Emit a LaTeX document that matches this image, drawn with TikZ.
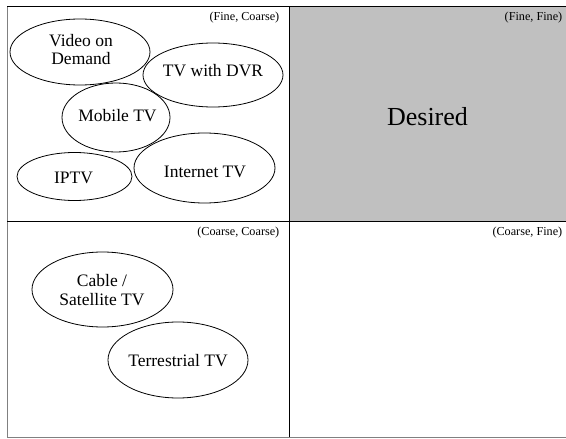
\documentclass[tikz,border=0pt]{standalone}
\usepackage{fontspec}
\setmainfont{Liberation Serif}
\begin{document}
\begin{tikzpicture}[x=1pt,y=-1pt,
  grid/.style={draw=black,line width=0.9pt},
  edge/.style={draw={rgb,255:red,128;green,128;blue,128},line width=1pt},
  bub/.style={draw=black,line width=0.8pt},
  lbl/.style={inner sep=0pt,align=center,font=\fontsize{17.5}{18.5}\selectfont},
  corner/.style={inner sep=0pt,anchor=east,font=\fontsize{12.2}{14}\selectfont}]
\useasboundingbox (0,0) rectangle (566,439);
% quadrants
\fill[fill={rgb,255:red,192;green,192;blue,192}] (289,6) rectangle (566,221.5);
\draw[edge] (7.5,6) -- (7.5,437.5) -- (566,437.5);
\draw[grid] (7,6) -- (566,6);
\draw[grid] (289,6) -- (289,437);
\draw[grid] (7,221.5) -- (566,221.5);
% corner labels
\node[corner] (fc) at (279.5,17.5) {(Fine, Coarse)};
\node[corner] (ff) at (562.5,17.5) {(Fine, Fine)};
\node[corner] (cc) at (279.5,233) {(Coarse, Coarse)};
\node[corner] (cf) at (562.5,232.5) {(Coarse, Fine)};
\node[inner sep=0pt,font=\fontsize{26}{30}\selectfont] (des) at (427.5,117) {Desired};
% ellipses
\draw[bub] (80,52) ellipse [x radius=70pt, y radius=33pt];
\node[lbl] (vod) at (81,49.5) {Video on\\Demand};
\draw[bub] (213,75) ellipse [x radius=70pt, y radius=32pt];
\node[lbl] (dvr) at (213,71) {TV with DVR};
\draw[bub] (116,117.5) ellipse [x radius=54pt, y radius=34.5pt];
\node[lbl] (mob) at (117.5,116) {Mobile TV};
\draw[bub] (74.5,176.5) ellipse [x radius=57.5pt, y radius=24pt];
\node[lbl] (ip) at (73.5,178) {IPTV};
\draw[bub] (204.5,168) ellipse [x radius=70.5pt, y radius=35pt];
\node[lbl] (inet) at (205,172) {Internet TV};
\draw[bub] (102.5,289.5) ellipse [x radius=70.5pt, y radius=37.5pt];
\node[lbl] (cab) at (102,290) {Cable /\\Satellite TV};
\draw[bub] (178,360) ellipse [x radius=70pt, y radius=38pt];
\node[lbl] (ter) at (178,360.5) {Terrestrial TV};
\end{tikzpicture}
\end{document}
